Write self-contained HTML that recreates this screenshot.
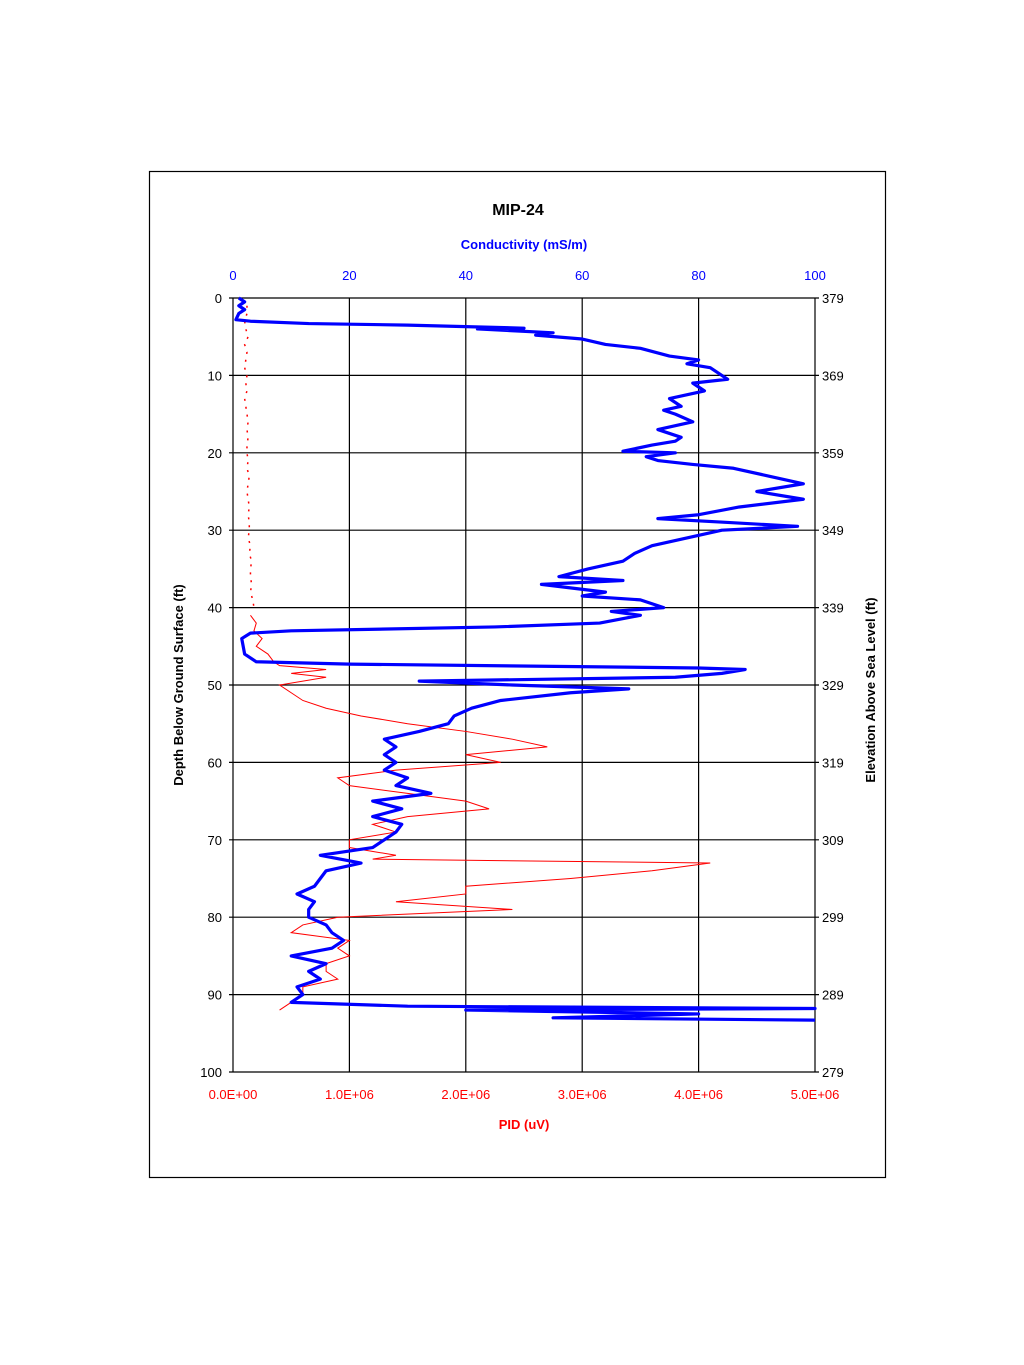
<!DOCTYPE html>
<html><head><meta charset="utf-8"><style>
body{margin:0;background:#fff;}
svg{display:block;font-family:"Liberation Sans",Arial,sans-serif;}
</style></head><body>
<svg id="c" width="1024" height="1365">
<rect x="149.5" y="171.5" width="736" height="1006" fill="none" stroke="#000" stroke-width="1.2"/>
<text x="518" y="215" font-size="16" font-weight="bold" text-anchor="middle">MIP-24</text>
<text x="524" y="249" font-size="13" font-weight="bold" fill="#00f" text-anchor="middle">Conductivity (mS/m)</text>
<text x="524" y="1129" font-size="13" font-weight="bold" fill="#f00" text-anchor="middle">PID (uV)</text>
<text transform="translate(183,685) rotate(-90)" font-size="13" font-weight="bold" text-anchor="middle">Depth Below Ground Surface (ft)</text>
<text transform="translate(875,690) rotate(-90)" font-size="13" font-weight="bold" text-anchor="middle">Elevation Above Sea Level (ft)</text>
<g id="grid"></g><g id="series"></g><g id="labels"></g>
</svg>
<script>
const condTicks=[0,20,40,60,80,100];
const pidTicks=["0.0E+00","1.0E+06","2.0E+06","3.0E+06","4.0E+06","5.0E+06"];
const depthTicks=[0,10,20,30,40,50,60,70,80,90,100];
const elevTicks=[379,369,359,349,339,329,319,309,299,289,279];
const condDepth=[0,0.5,1,1.5,2,2.8,3,3.3,3.5,3.9,4.0,4.5,4.8,5.3,6.0,6.5,7.5,8,8.5,9,10,10.5,11,12,13,14,14.5,15,16,17,18,18.5,19,19.8,20,20.5,21,21.5,22,23,24,25,26,27,28,28.5,29,29.5,30,31,32,33,34,35,36,36.5,37,38,38.5,39,40,40.5,41,42,42.5,43,43.3,44,46,47,47.3,47.8,48,48.5,49,49.5,50,50.5,51,52,53,54,55,56,57,58,59,60,61,62,63,64,65,66,67,68,69,70,71,72,73,74,75,76,77,78,79,80,81,82,83,84,85,86,87,88,89,90,91,91.5,91.8,92,92.5,93,93.3];
const condVal=[1,2,1,2,1,0.5,3,13,30,50,42,55,52,60,64,70,75,80,78,82,84,85,79,81,75,77,74,76,79,73,77,76,72,67,76,71,73,79,86,92,98,90,98,87,80,73,85,97,84,78,72,69,67,61,56,67,53,64,60,70,74,65,70,63,45,10,3,1.5,2,4,20,80,88,84,76,32,48,68,58,46,41,38,37,32,26,28,26,28,26,30,28,34,24,29,24,29,28,26,24,15,22,16,15,14,11,14,13,13,16,17,19,17,10,16,13,15,11,12,10,30,100,40,80,55,100];
const pidDepth=[41,42,43,44,45,46,47,47.5,48,48.5,49,50,51,52,53,54,55,56,57,58,59,60,61,62,63,64,65,66,67,68,69,70,71,72,72.5,73,74,75,76,77,78,79,80,81,82,83,84,85,86,87,88,89,90,91,92];
const pidVal=[0.15,0.2,0.18,0.25,0.2,0.3,0.35,0.4,0.8,0.5,0.8,0.4,0.5,0.6,0.8,1.1,1.5,2.0,2.4,2.7,2.0,2.3,1.4,0.9,1.0,1.5,2.0,2.2,1.5,1.2,1.4,1.0,1.0,1.4,1.2,4.1,3.6,2.9,2.0,2.0,1.4,2.4,0.9,0.6,0.5,1.0,0.9,1.0,0.8,0.8,0.9,0.6,0.6,0.5,0.4];
const pidDotDepth=[1,2,3,4,5,6,7,8,9,10,11,12,13,15,16,17,18,19,20,21,22,23,24,25,26,27,28,29,30,31,32,33,34,35,36,37,38,39,40];
const pidDotVal=[0.12,0.12,0.1,0.11,0.13,0.1,0.12,0.11,0.1,0.12,0.11,0.12,0.1,0.12,0.13,0.12,0.13,0.12,0.12,0.13,0.12,0.14,0.13,0.12,0.13,0.14,0.13,0.14,0.14,0.13,0.15,0.14,0.16,0.15,0.15,0.16,0.15,0.17,0.18];
const X0=233,X1=815,Y0=298,Y1=1072;
const xC=v=>X0+v/100*(X1-X0);
const xP=v=>X0+v/5*(X1-X0);
const yD=d=>Y0+d/100*(Y1-Y0);
const NS="http://www.w3.org/2000/svg";
function mk(t,a,p){const e=document.createElementNS(NS,t);for(const k in a)e.setAttribute(k,a[k]);p.appendChild(e);return e;}
const g=document.getElementById('grid'),s=document.getElementById('series'),L=document.getElementById('labels');
condTicks.forEach((t,i)=>{const x=xC(t);
 const l=mk('line',{x1:x,y1:Y0,x2:x,y2:Y1,stroke:'#000','stroke-width':1.2},g);
 
 
 const a=mk('text',{x:x,y:280,'font-size':13,fill:'#00f','text-anchor':'middle'},L);a.textContent=t;
 
 
 const b=mk('text',{x:x,y:1099,'font-size':13,fill:'#f00','text-anchor':'middle'},L);b.textContent=pidTicks[i];
 
 
});
depthTicks.forEach((t,i)=>{const y=yD(t);
 const l=mk('line',{x1:X0-4,y1:y,x2:X1+4,y2:y,stroke:'#000','stroke-width':1.2},g);
 
 
 const a=mk('text',{x:222,y:y+5,'font-size':13,'text-anchor':'end'},L);a.textContent=t;
 
 
 const b=mk('text',{x:822,y:y+5,'font-size':13},L);b.textContent=elevTicks[i];
 
 
});
const pd=mk('path',{d:pidDotDepth.map((d,i)=>(i?'L':'M')+xP(pidDotVal[i])+','+yD(d)).join(''),fill:'none',stroke:'#f00','stroke-width':1.5,'stroke-dasharray':'2 6'},s);


const pp=mk('path',{d:pidDepth.map((d,i)=>(i?'L':'M')+xP(pidVal[i])+','+yD(d)).join(''),fill:'none',stroke:'#f00','stroke-width':1},s);


const cp=mk('path',{d:condDepth.map((d,i)=>(i?'L':'M')+xC(condVal[i])+','+yD(d)).join(''),fill:'none',stroke:'#00f','stroke-width':3.2,'stroke-linejoin':'round'},s);


</script>
</body></html>
